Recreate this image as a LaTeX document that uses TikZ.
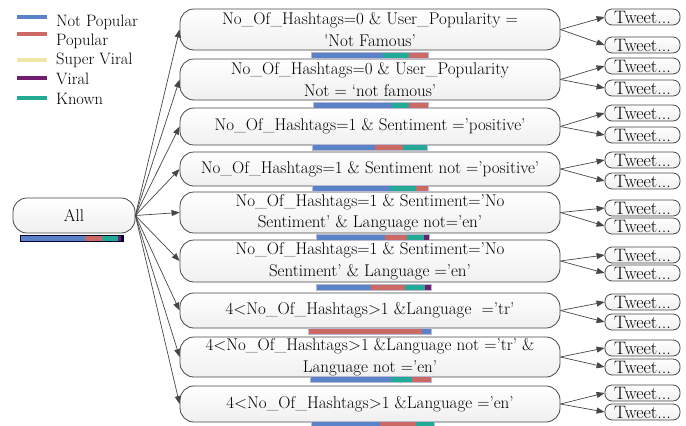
\documentclass[tikz,border=0pt]{standalone}
\usepackage{fontspec}
\usetikzlibrary{arrows.meta}

\definecolor{npop}{RGB}{90,130,200}
\definecolor{pop}{RGB}{205,105,100}
\definecolor{sviral}{RGB}{240,230,170}
\definecolor{viral}{RGB}{112,30,112}
\definecolor{known}{RGB}{35,170,150}
\definecolor{barframe}{RGB}{185,185,210}
\definecolor{edgegray}{RGB}{70,70,70}

\tikzset{
  cond/.style={draw=edgegray, line width=0.8pt, rounded corners=14pt,
    top color=white, bottom color=black!6, minimum width=380pt,
    inner sep=1pt, align=center, font=\fontsize{17}{21.5}\selectfont},
  tweet/.style={draw=edgegray, line width=0.8pt, rounded corners=7pt,
    top color=white, bottom color=black!6, minimum width=75pt,
    minimum height=16pt, inner sep=0pt, font=\fontsize{18}{18}\selectfont},
  conn/.style={draw=edgegray, line width=0.7pt,
    -{Triangle[length=8pt,width=6pt]}},
  key/.style={line width=4pt},
  legend/.style={anchor=base west, inner sep=0pt,
    font=\fontsize{16.5}{16.5}\selectfont},
}

% y, first x, last x, segments colour/from/to
\newcommand{\distbar}[5][barframe]{%
  \fill[#1] (#3-1,#2-3.5) rectangle (#4+1,#2+3.5);
  \foreach \col/\xa/\xb in {#5}{\fill[\col] (\xa,#2-2.5) rectangle (\xb,#2+2.5);}
}

\begin{document}
\begin{tikzpicture}[x=1pt,y=-1pt]
\useasboundingbox (0,0) rectangle (686,426);

% Legend
\foreach \col/\ly/\ty/\txt [count=\i] in {npop/17/26/Not Popular,
    pop/34/45/Popular, sviral/60/64/Super Viral, viral/78/84/Viral,
    known/98/104/Known}{
  \draw[key,\col] (17,\ly) -- (47,\ly);
  \node[legend] (key\i) at (56,\ty) {\txt};
}

% Root
\node[cond, minimum width=122pt, minimum height=35pt] (all) at (74,215.5) {All};
\distbar[black!80!blue]{238}{21}{123}{npop/21/85, pop/85/102, known/102/118, viral/118/121}

% Conditions
\node[cond, minimum height=41pt] (c1) at (370,29.5)
  {No\_Of\_Hashtags=0 \& User\_Popularity =\\\textquotesingle Not Famous'};
\node[cond, minimum height=41pt] (c2) at (370,79.5)
  {No\_Of\_Hashtags=0 \& User\_Popularity\\Not = `not famous'};
\node[cond, minimum height=37pt] (c3) at (370,126.5)
  {No\_Of\_Hashtags=1 \& Sentiment ='positive'};
\node[cond, minimum height=34pt] (c4) at (370,169)
  {No\_Of\_Hashtags=1 \& Sentiment not ='positive'};
\node[cond, minimum height=41pt] (c5) at (370,212.5)
  {No\_Of\_Hashtags=1 \& Sentiment='No\\Sentiment' \& Language not='en'};
\node[cond, minimum height=42pt] (c6) at (370,261)
  {No\_Of\_Hashtags=1 \& Sentiment='No\\Sentiment' \& Language ='en'};
\node[cond, minimum height=35pt] (c7) at (370,310.5)
  {4<No\_Of\_Hashtags>1 \&Language \ ='tr'};
\node[cond, minimum height=40pt] (c8) at (370,357)
  {4<No\_Of\_Hashtags>1 \&Language not ='tr' \&\\Language not ='en'};
\node[cond, minimum height=36pt] (c9) at (370,404)
  {4<No\_Of\_Hashtags>1 \&Language ='en'};

% Class bars
\distbar{55}{312}{428}{npop/312/383, known/383/409, pop/409/428}
\distbar{105}{314}{428}{npop/314/392, known/392/409, pop/409/428}
\distbar{147}{313}{427}{npop/313/375, pop/375/403, known/403/427}
\distbar{188}{313}{428}{npop/313/390, known/390/416, pop/416/428}
\distbar{237}{317}{429}{npop/317/385, pop/385/407, known/407/424, viral/424/429}
\distbar{287}{317}{431}{npop/317/371, pop/371/405, known/405/425, viral/425/431}
\distbar{331}{309}{431}{pop/309/422, npop/422/431}
\distbar{379}{311}{431}{npop/311/391, known/391/412, pop/412/431}
\distbar{424}{312}{434}{npop/312/380, pop/380/416, known/416/434}

% Leaves and edges
\foreach \i/\ya/\yb in {1/17/45, 2/66/88, 3/113/135, 4/160/181,
    5/208/226, 6/255/273, 7/302/322, 8/348/367, 9/393/412}{
  \node[tweet] (t\i-a) at (642.5,\ya) {Tweet...};
  \node[tweet] (t\i-b) at (642.5,\yb) {Tweet...};
  \draw[conn] (all.east) -- (c\i.west);
  \draw[conn] (c\i.east) -- (t\i-a.west);
  \draw[conn] (c\i.east) -- (t\i-b.west);
}
\end{tikzpicture}
\end{document}
